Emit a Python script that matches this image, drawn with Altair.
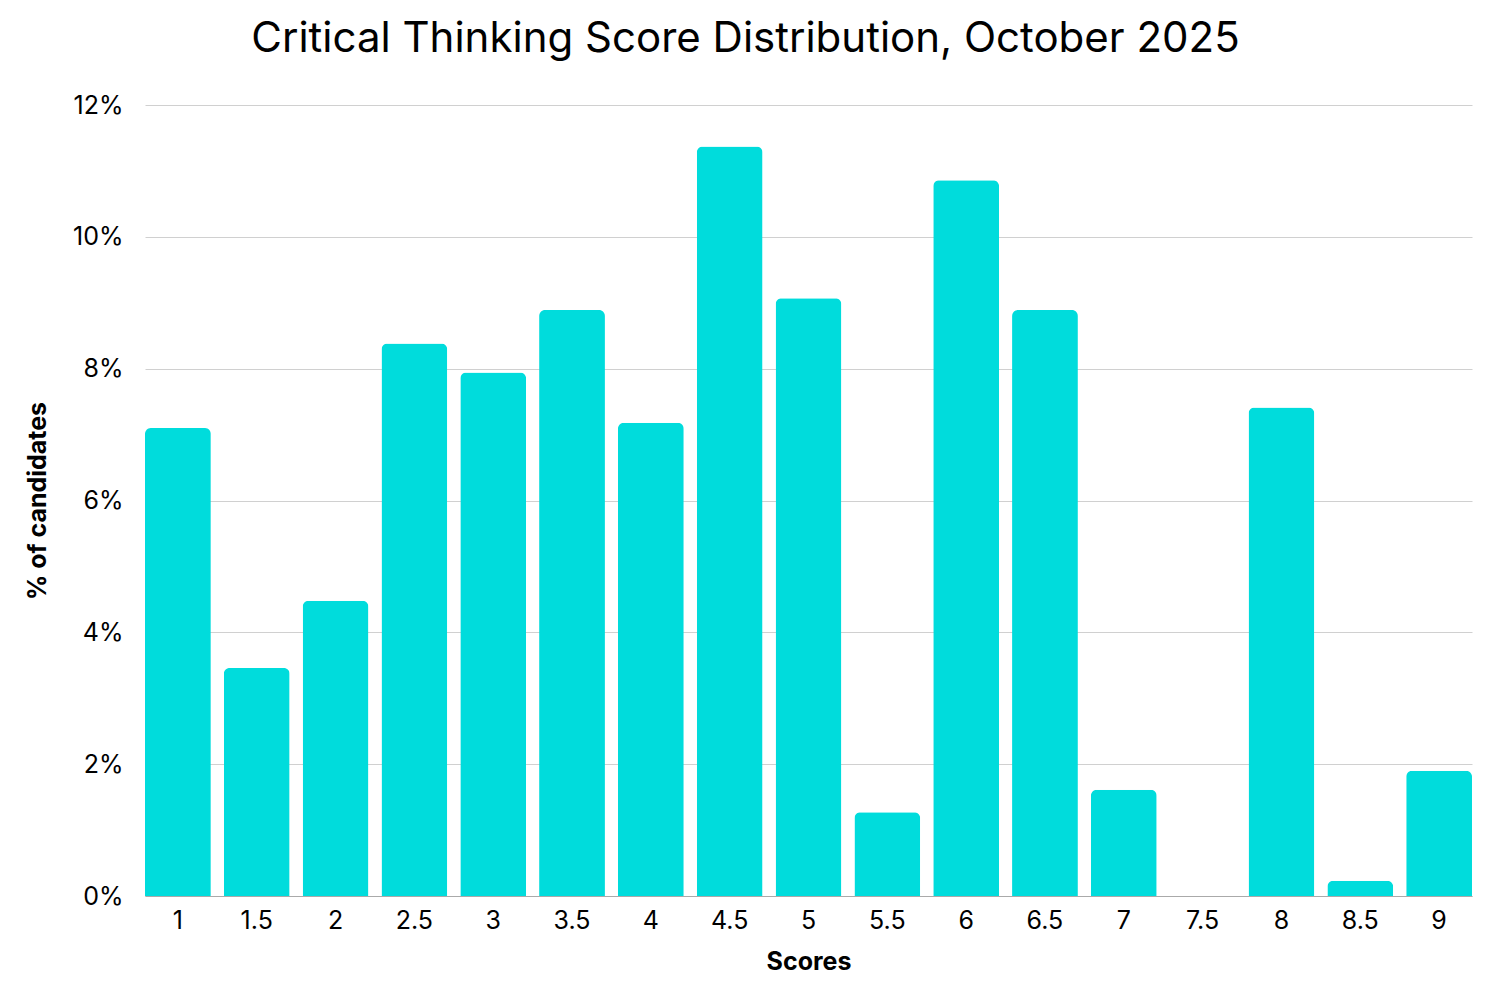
import altair as alt
import pandas as pd

scores = ["1", "1.5", "2", "2.5", "3", "3.5", "4", "4.5", "5", "5.5", "6", "6.5", "7", "7.5", "8", "8.5", "9"]
pct = [7.10, 3.46, 4.48, 8.38, 7.94, 8.89, 7.18, 11.37, 9.07, 1.27, 10.86, 8.89, 1.61, 0.0, 7.41, 0.23, 1.90]

df = pd.DataFrame({"score": scores, "pct": [p / 100 for p in pct]})

FONT = "Inter"

bars = alt.Chart(df).mark_bar(
    color="#00DCDC", cornerRadiusTopLeft=6, cornerRadiusTopRight=6
).encode(
    x=alt.X("score:N", sort=scores, title="Scores")
        .scale(paddingInner=0.165, paddingOuter=0)
        .axis(labelAngle=0, ticks=False, labelPadding=12, titlePadding=16,
              domainColor="#aaaaaa", grid=False),
    y=alt.Y("pct:Q", title="% of candidates")
        .scale(domain=[0, 0.12])
        .axis(format=".0%", values=[0, 0.02, 0.04, 0.06, 0.08, 0.10, 0.12],
              ticks=False, domain=False, labelPadding=22, titlePadding=22,
              gridColor="#d0d0d0"),
)

chart = bars.properties(
    width=1327, height=791,
    autosize=alt.AutoSizeParams(type="none"),
    padding={"left": 137, "top": 97, "right": 20, "bottom": 80},
    title=alt.Title("Critical Thinking Score Distribution, October 2025",
                    fontSize=42, font=FONT, fontWeight="normal", color="black",
                    anchor="middle", offset=32, dx=-63),
).configure_axis(
    labelFont=FONT, labelFontSize=25, labelColor="black",
    titleFont=FONT, titleFontSize=25, titleFontWeight="bold", titleColor="black",
).configure_view(stroke=None)

chart.save("out.html", embed_options={"renderer": "svg", "actions": False})
